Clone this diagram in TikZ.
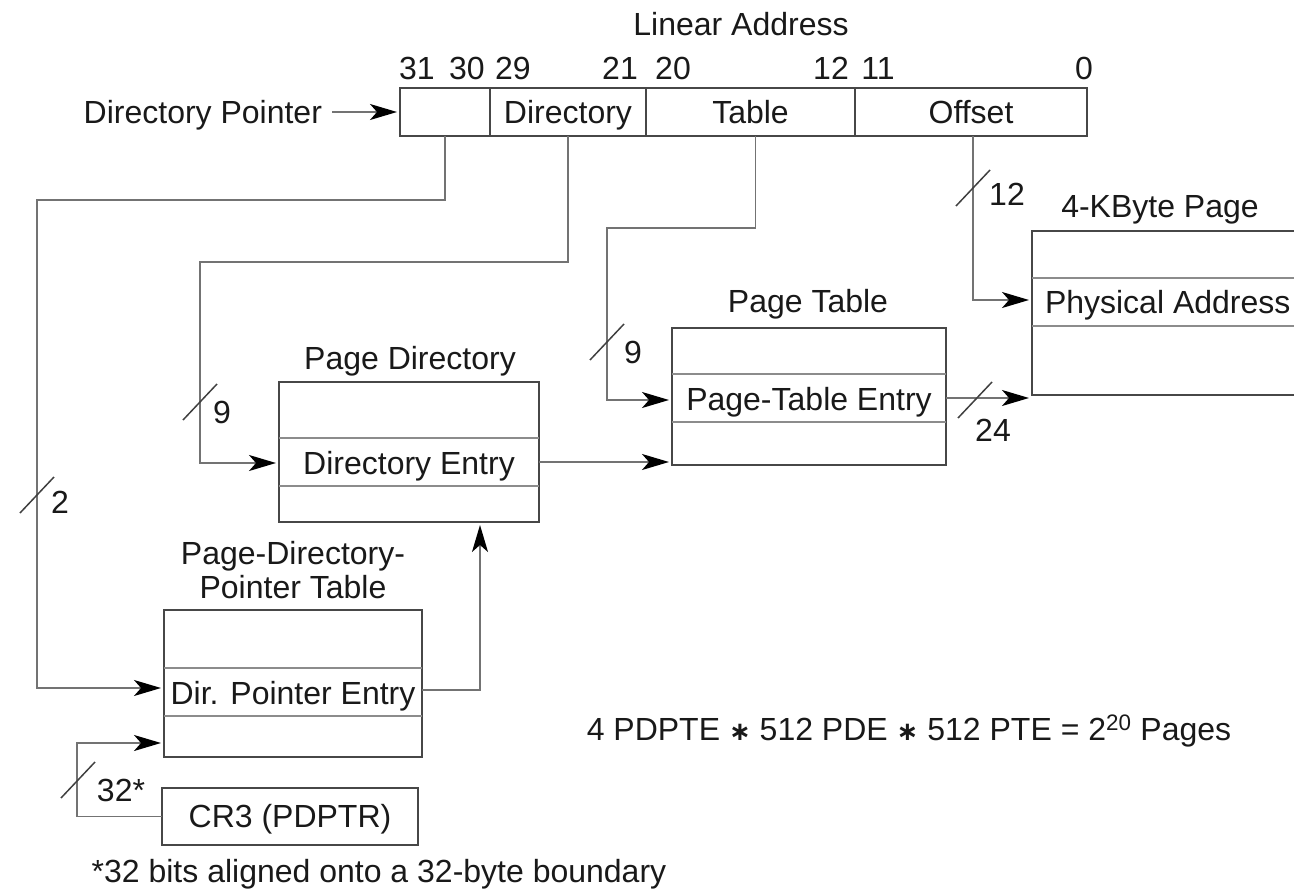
\documentclass[tikz,border=0pt]{standalone}
\usepackage{fontspec}
\setmainfont{Liberation Sans}
\newfontfamily\symfont{DejaVu Sans}
\usetikzlibrary{arrows.meta,calc}

\begin{document}
\begin{tikzpicture}[x=1pt,y=-1pt,
  font=\fontsize{32}{34}\selectfont,
  every node/.style={inner sep=0pt, outer sep=0pt, text=black!90},
  txt/.style={text height=26pt, text depth=4pt},
  field/.style={txt, draw=black!72, line width=1.8pt, minimum height=48pt, anchor=north west},
  tbl/.style={draw=black!72, line width=1.8pt, anchor=north west},
  divider/.style={draw=black!45, line width=1.6pt},
  conn/.style={draw=black!55, line width=1.8pt},
  arr/.style={conn, -{Stealth[length=27pt,width=16pt,inset=7pt,black]}, shorten >=3pt},
  slash/.style={draw=black!75, line width=1.5pt},
  lbl/.style={anchor=center}
]
\useasboundingbox (0,0) rectangle (1294,891);

% ---- linear address fields ----
\node[lbl, txt] (title) at (741,25) {Linear Address};
\node[field, minimum width=90pt]  (f1)   at (400,88) {};
\node[field, minimum width=156pt] (fdir) at (490,88) {Directory};
\node[field, minimum width=209pt] (ftab) at (646,88) {Table};
\node[field, minimum width=232pt] (foff) at (855,88) {Offset};

\foreach \b/\x in {31/417, 30/467, 29/513, 21/620, 20/673, 12/831, 11/878, 0/1084}
  \node[lbl] (bit\b) at (\x,68) {\b};

\node[anchor=east, txt] (dp) at (322,112) {Directory Pointer};
\draw[arr, shorten <=10pt] (dp.east) -- (f1.west);

% ---- page-directory-pointer table ----
\node[tbl, minimum width=258pt, minimum height=147pt] (pdpt) at (164,610) {};
\draw[divider] (pdpt.west |- 0,668) -- (pdpt.east |- 0,668);
\draw[divider] (pdpt.west |- 0,716) -- (pdpt.east |- 0,716);
\node[lbl, txt] (pdpte) at (293,693) {Dir. Pointer Entry};
\node[lbl, align=center] (pdptt) at (293,570) {Page-Directory-\\Pointer Table};

% ---- CR3 ----
\node[tbl, minimum width=256pt, minimum height=57pt] (cr3) at (162,788) {};
\node[lbl, txt] (cr3t) at (290,816) {CR3 (PDPTR)};
\node[lbl, txt] (note) at (379,871) {*32 bits aligned onto a 32-byte boundary};

% ---- page directory ----
\node[tbl, minimum width=260pt, minimum height=140pt] (pd) at (279,382) {};
\draw[divider] (pd.west |- 0,438) -- (pd.east |- 0,438);
\draw[divider] (pd.west |- 0,486) -- (pd.east |- 0,486);
\node[lbl, txt] (pde) at (409,463) {Directory Entry};
\node[lbl, txt] (pdt) at (410,358) {Page Directory};

% ---- page table ----
\node[tbl, minimum width=274pt, minimum height=137pt] (pt) at (672,328) {};
\draw[divider] (pt.west |- 0,374) -- (pt.east |- 0,374);
\draw[divider] (pt.west |- 0,422) -- (pt.east |- 0,422);
\node[lbl, txt] (pte) at (809,399) {Page-Table Entry};
\node[lbl, txt] (ptt) at (808,301) {Page Table};

% ---- 4-KByte page ----
\node[tbl, minimum width=290pt, minimum height=164pt] (page) at (1032,231) {};
\draw[divider] (page.west |- 0,278) -- (page.east |- 0,278);
\draw[divider] (page.west |- 0,326) -- (page.east |- 0,326);
\node[anchor=west, txt] (pa) at (1045,302) {Physical Address};
\node[lbl, txt] (paget) at (1160,206) {4-KByte Page};

% ---- formula ----
\node[lbl, txt] (formula) at (909,729)
  {4 PDPTE {\symfont\bfseries\fontsize{26}{26}\selectfont ∗} 512 PDE {\symfont\bfseries\fontsize{26}{26}\selectfont ∗} 512 PTE = 2\textsuperscript{20} Pages};

% ---- connectors ----
\coordinate (k1) at (37,200);
\coordinate (k2) at (200,262);
\coordinate (k3) at (607,228);
\coordinate (k5) at (480,690);
\coordinate (k6) at (77,743);

\draw[arr] (f1.south) |- (k1) |- (pdpt.west |- 0,688);
\draw[arr] (fdir.south) |- (k2) |- (pd.west |- 0,463);
\draw[arr] ([xshift=5pt]ftab.south) |- (k3) |- (pt.west |- 0,400);
\draw[arr] ([xshift=2pt]foff.south) |- (page.west |- 0,300);
\draw[arr] (pd.east |- 0,462) -- (pt.west |- 0,462);
\draw[arr] (pt.east |- 0,398) -- (page.west |- 0,398);
\draw[arr] (pdpt.east |- k5) -| (pd.south -| k5);
\draw[arr] (cr3.west) -| (k6) -- (pdpt.west |- k6);

% ---- bus-width marks ----
\foreach \n/\cx/\cy in {s2/37/495, s9a/200/402, s9b/607/342, s12/973/188, s24/975/400, s32/78/780}{
  \coordinate (\n) at (\cx,\cy);
  \draw[slash] ($(\n)+(-17,18)$) -- ($(\n)+(17,-18)$);
}
\node[lbl] (w2)  at (60,502)  {2};
\node[lbl] (w9a) at (222,412) {9};
\node[lbl] (w9b) at (633,352) {9};
\node[lbl] (w12) at (1007,194) {12};
\node[lbl] (w24) at (993,430) {24};
\node[lbl] (w32) at (121,790) {32*};
\end{tikzpicture}
\end{document}
